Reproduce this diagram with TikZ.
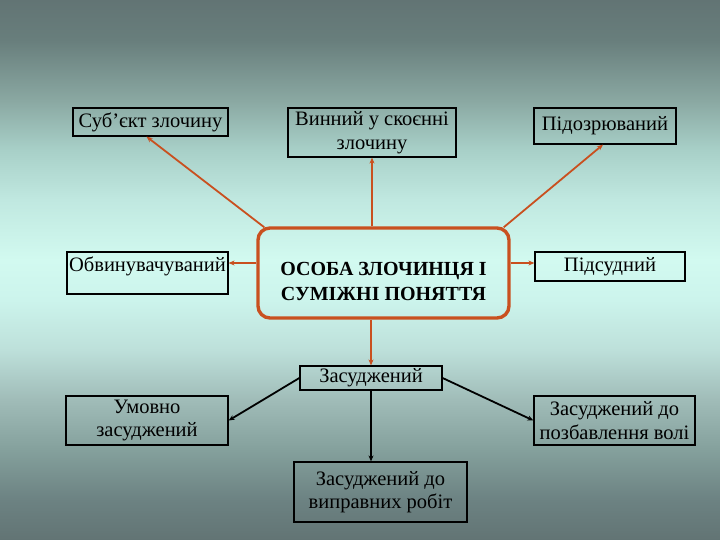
\documentclass[tikz,border=0pt]{standalone}
\usepackage{fontspec}
\setmainfont{Liberation Serif}
\usetikzlibrary{arrows.meta}
\definecolor{orng}{HTML}{C9501F}
\definecolor{bgA}{HTML}{627474}
\definecolor{bgB}{HTML}{6C8282}
\definecolor{bgC}{HTML}{84A09C}
\definecolor{bgD}{HTML}{A0BCB8}
\definecolor{bgE}{HTML}{BDE0DA}
\definecolor{bgF}{HTML}{CCF4EC}
\definecolor{bgG}{HTML}{D2FAF0}
\definecolor{bgH}{HTML}{C0E8E0}
\definecolor{bgI}{HTML}{A8D0C8}
\definecolor{bgJ}{HTML}{8AA8A2}
\definecolor{bgK}{HTML}{687E7C}
\definecolor{bgL}{HTML}{627474}
\pgfdeclareverticalshading{bgshade}{100bp}{%
color(0bp)=(bgA);
color(25bp)=(bgA);
color(28.7bp)=(bgB);
color(33.3bp)=(bgC);
color(38.0bp)=(bgD);
color(42.6bp)=(bgE);
color(47.2bp)=(bgF);
color(50.9bp)=(bgG);
color(56.5bp)=(bgH);
color(61.1bp)=(bgI);
color(65.7bp)=(bgJ);
color(71.3bp)=(bgK);
color(75bp)=(bgL);
color(100bp)=(bgL)}
\tikzset{
  box/.style={draw=black, line width=1.2pt, inner sep=1pt, align=center,
    font=\fontsize{20.5}{23.5}\selectfont},
  hub/.style={draw=orng, line width=3.4pt, rounded corners=12pt},
  hubtext/.style={align=center, font=\fontsize{20}{25}\selectfont\bfseries},
  oarr/.style={draw=orng, line width=1.8pt, -{Stealth[length=6pt,width=5pt]}},
  barr/.style={draw=black, line width=1.8pt, -{Stealth[length=6pt,width=5pt]}}
}
\begin{document}
\begin{tikzpicture}[x=1pt,y=-1pt]
\useasboundingbox (0,0) rectangle (720,540);
\shade[shading=bgshade] (0,0) rectangle (720,540);

\node[box, minimum width=155pt, minimum height=28pt] (sub) at (150.5,122) {Суб’єкт злочину};
\node[box, minimum width=168pt, minimum height=49pt] (vyn) at (372,132.5) {Винний у скоєнні\\злочину};
\node[box, minimum width=142pt, minimum height=36pt] (pid) at (605,126) {Підозрюваний};
\node[box, minimum width=161pt, minimum height=42pt] (obv) at (147.5,273) {Обвинувачуваний\\[-5pt]\mbox{}};
\node[hub, minimum width=251pt, minimum height=90pt] (c) at (383.5,273) {};
\node[hubtext] (ct) at (383.5,281) {ОСОБА ЗЛОЧИНЦЯ І\\СУМІЖНІ ПОНЯТТЯ};
\node[box, minimum width=150pt, minimum height=29pt] (pids) at (610,266.5) {Підсудний};
\node[box, minimum width=142pt, minimum height=24pt, inner sep=0pt] (zas) at (371,378) {Засуджений};
\node[box, minimum width=162pt, minimum height=49pt] (umov) at (147,420.5) {Умовно\\засуджений};
\node[box, minimum width=161pt, minimum height=49pt] (pozb) at (614.5,420.5) {Засуджений до\\позбавлення волі};
\node[box, minimum width=173pt, minimum height=60pt] (vypr) at (380.5,492) {Засуджений до\\виправних робіт};

\draw[oarr] ([xshift=8pt,yshift=-1pt]c.north west) -- ([xshift=-4pt]sub.south);
\draw[oarr] (vyn.south |- c.north) -- (vyn.south);
\draw[oarr] ([xshift=-7pt,yshift=-1pt]c.north east) -- ([xshift=-2pt]pid.south);
\draw[oarr] ([yshift=10pt]c.west) -- ([yshift=10pt]c.west -| obv.east);
\draw[oarr] ([yshift=10pt]c.east) -- ([yshift=10pt]c.east -| pids.west);
\draw[oarr] (zas.north |- c.south) -- (zas.north);
\draw[barr] (zas.west) -- (umov.east);
\draw[barr] (zas.east) -- (pozb.west);
\draw[barr] (zas.south) -- (zas.south |- vypr.north);
\end{tikzpicture}
\end{document}
